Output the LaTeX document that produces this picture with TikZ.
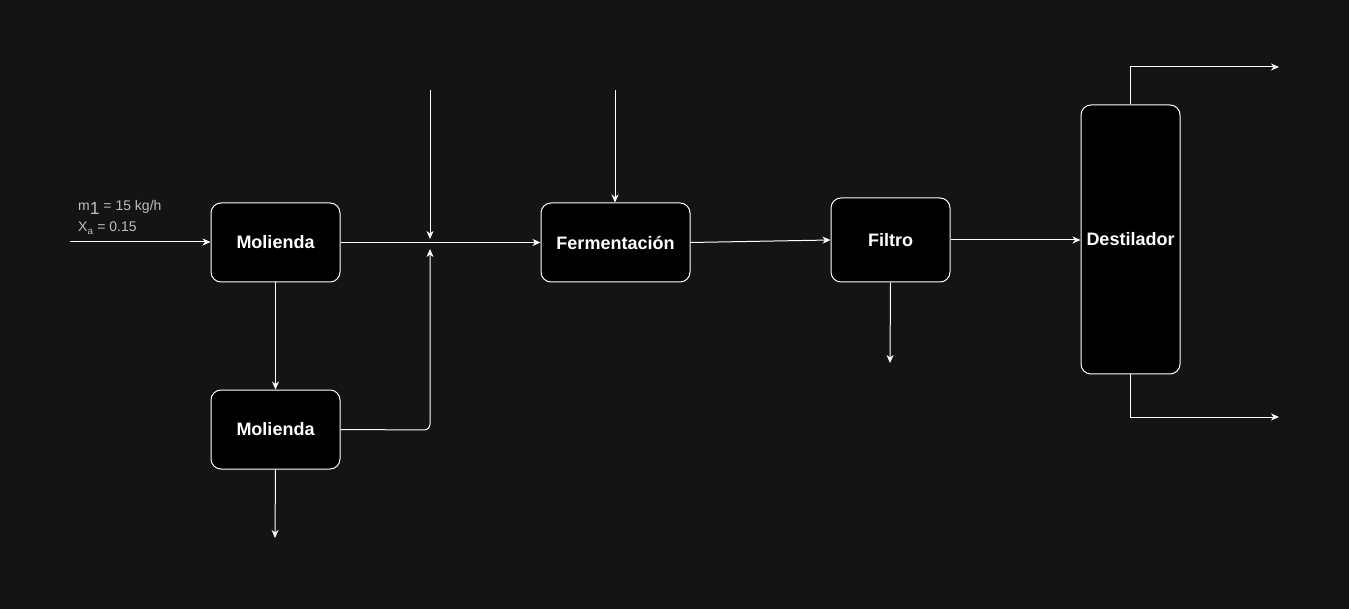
\documentclass[tikz,border=0pt]{standalone}
\usepackage{fontspec}
\setmainfont{Liberation Sans}
\usetikzlibrary{arrows.meta}
\definecolor{bg}{HTML}{141414}
\definecolor{lbl}{HTML}{BDBDBD}
\begin{document}
\begin{tikzpicture}[x=1pt,y=-1pt,
  unit/.style={draw=white, fill=black, rounded corners=10pt, line width=1pt, text=white,
    font=\bfseries\fontsize{18}{20}\selectfont, inner sep=0pt},
  flow/.style={draw=white, line width=1pt, -{Stealth[length=8pt,width=7pt,inset=2.5pt]}},
  lab/.style={text=lbl, font=\fontsize{14}{16}\selectfont, anchor=base west, inner sep=0pt}]
\fill[bg] (0,0) rectangle (1349,609);
\useasboundingbox (0,0) rectangle (1349,609);

\node[unit, minimum width=129pt, minimum height=79pt] (mol1) at (275.5,242.5) {Molienda};
\node[unit, minimum width=129pt, minimum height=79pt] (mol2) at (275.5,429.5) {Molienda};
\node[unit, minimum width=149pt, minimum height=79pt] (ferm) at (615.5,242.5) {Fermentación};
\node[unit, minimum width=119pt, minimum height=84pt] (filt) at (890.5,240) {Filtro};
\node[unit, minimum width=99pt, minimum height=269pt] (dest) at (1130.5,239.5) {Destilador};

\coordinate (in) at (70,242);
\coordinate (top1) at (430,90);
\coordinate (mix1) at (430,239);
\coordinate (mix2) at (430,249);
\coordinate (top2) at (615,90);
\coordinate (out2) at (275,538);
\coordinate (outf) at (890,363);
\coordinate (outd1) at (1279,67);
\coordinate (outd2) at (1279,417);

\node[lab] (m1) at (78,211) {m\raisebox{-0.25em}{\fontsize{17.5}{17.5}\selectfont 1} = 15 kg/h};
\node[lab] (xa) at (78,232) {X\textsubscript{a} = 0.15};

\draw[flow] (in) -- (mol1.west |- in);
\draw[flow] (mol1.east) -- (ferm.west);
\draw[flow] (top1) -- (mix1);
\draw[flow, rounded corners=6pt] (mol2.east) -- (430,430) -- (mix2);
\draw[flow] (top2) -- (ferm.north -| top2);
\draw[flow] (mol1.south) -- (mol2.north);
\draw[flow] (mol2.south) -- (out2);
\draw[flow] (ferm.east) -- (filt.west);
\draw[flow] (filt.south) -- (outf);
\draw[flow] (filt.east) -- (dest.west |- filt.east);
\draw[flow] (dest.north) |- (outd1);
\draw[flow] (dest.south) |- (outd2);
\end{tikzpicture}
\end{document}
